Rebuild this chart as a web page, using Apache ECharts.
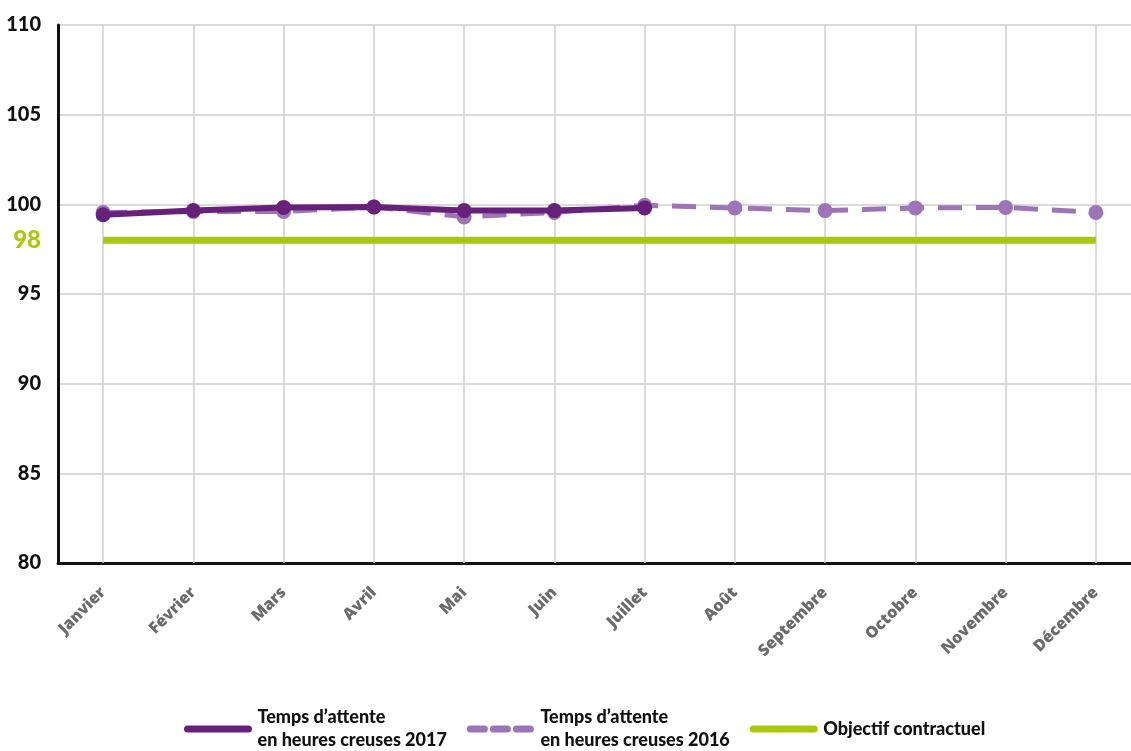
<!DOCTYPE html>
<html><head><meta charset="utf-8">
<script src="https://cdn.jsdelivr.net/npm/echarts@6/dist/echarts.min.js"></script>
<style>html,body{margin:0;padding:0;background:#fff;}#c{width:1131px;height:751px;}</style>
</head><body><div id="c"></div>
<script>
const months = ['Janvier','Février','Mars','Avril','Mai','Juin','Juillet','Août','Septembre','Octobre','Novembre','Décembre'];
const values2017 = [99.42, 99.65, 99.83, 99.85, 99.65, 99.65, 99.8];
const values2016 = [99.55, 99.6, 99.6, 99.85, 99.3, 99.55, 99.95, 99.8, 99.65, 99.8, 99.83, 99.55];
const objective = [98, 98, 98, 98, 98, 98, 98, 98, 98, 98, 98, 98];
const yTicks = {min: 80, max: 110, interval: 5};
const objectiveLabel = [98];
const seriesNames = ['Temps d’attente\nen heures creuses 2017', 'Temps d’attente\nen heures creuses 2016', 'Objectif contractuel'];

const C2017 = '#68217a', C2016 = '#9d74b8', CObj = '#a9c80c';
const chart = echarts.init(document.getElementById('c'));
chart.setOption({
  animation: false,
  backgroundColor: '#fff',
  grid: {left: 58, width: 1083, top: 25, bottom: 188, outerBoundsMode: 'none', containLabel: false},
  xAxis: {
    type: 'category', data: months, boundaryGap: true,
    axisLine: {lineStyle: {color: '#111', width: 3}},
    axisTick: {show: true, alignWithLabel: true, inside: true, length: 538, lineStyle: {color: '#cfcfcf', width: 1.5}},
    splitLine: {show: false},
    axisLabel: {rotate: 45, margin: 27, color: '#6b6b6b', fontFamily: 'Open Sans', fontWeight: 800, fontSize: 16, interval: 0}
  },
  yAxis: [{
    type: 'value', min: yTicks.min, max: yTicks.max, interval: yTicks.interval,
    axisLine: {show: true, lineStyle: {color: '#111', width: 3}},
    axisTick: {show: false},
    splitLine: {lineStyle: {color: '#cfcfcf', width: 1.5}},
    axisLabel: {color: '#111', fontFamily: 'Lato', fontWeight: 900, fontSize: 20, margin: 17}
  }, {
    type: 'value', position: 'left', min: yTicks.min, max: yTicks.max,
    axisLine: {show: false}, axisTick: {show: false}, splitLine: {show: false},
    axisLabel: {customValues: objectiveLabel, color: CObj, fontFamily: 'Lato', fontWeight: 900, fontSize: 24, margin: 17}
  }],
  legend: {
    bottom: -6, left: 179, itemWidth: 61, itemHeight: 14, itemGap: 20,
    itemStyle: {opacity: 0},
    lineStyle: {width: 7, cap: 'round'},
    textStyle: {color: '#111', fontFamily: 'Lato', fontWeight: 900, fontSize: 18, lineHeight: 23, padding: [0, 0, 0, 4]},
    data: [
      {name: seriesNames[0]},
      {name: seriesNames[1], lineStyle: {type: [14, 9], width: 7, cap: 'round'}},
      {name: seriesNames[2]}
    ]
  },
  series: [{
    name: seriesNames[2], type: 'line', data: objective, symbol: 'none',
    lineStyle: {color: CObj, width: 7}, itemStyle: {color: CObj}, z: 1
  }, {
    name: seriesNames[1], type: 'line', data: values2016, symbol: 'circle', symbolSize: 15,
    lineStyle: {color: C2016, width: 5, type: [24, 14]}, itemStyle: {color: C2016}, z: 2
  }, {
    name: seriesNames[0], type: 'line', data: values2017, symbol: 'circle', symbolSize: 15,
    lineStyle: {color: C2017, width: 6}, itemStyle: {color: C2017}, z: 3
  }]
});
</script></body></html>
